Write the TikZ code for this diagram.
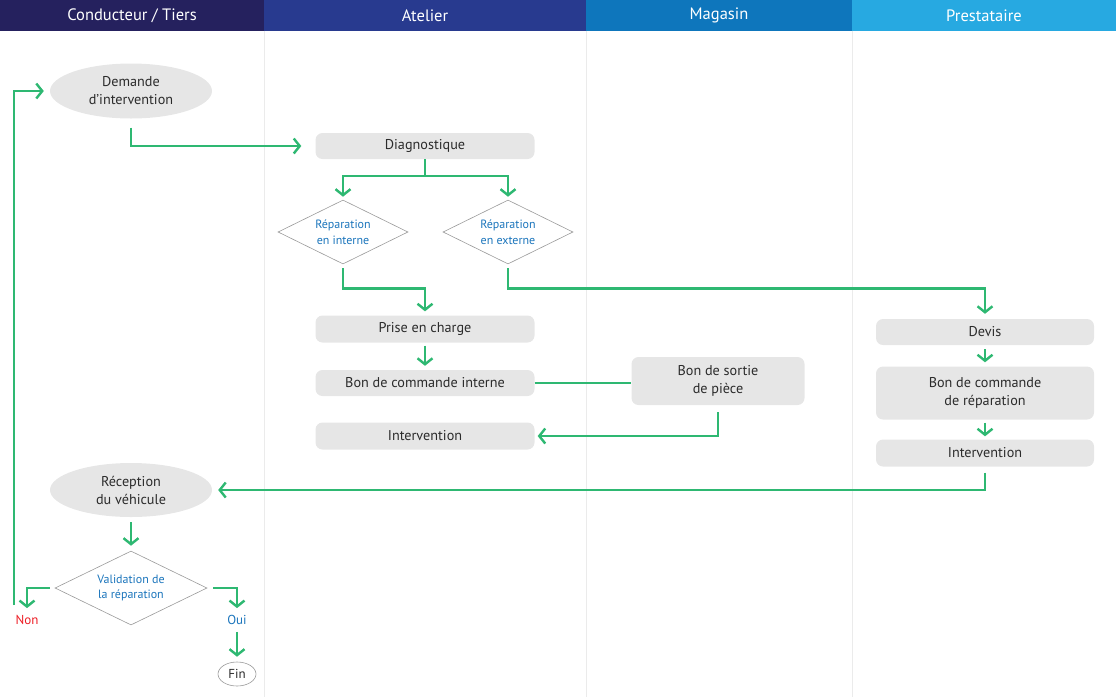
\documentclass[tikz,border=0pt]{standalone}
\usepackage{fontspec}
\setmainfont{PT Sans}
\usepackage{tikz}
\usetikzlibrary{arrows.meta,positioning,shapes.geometric,calc}
\definecolor{laneA}{HTML}{25215E}
\definecolor{laneB}{HTML}{283A8F}
\definecolor{laneC}{HTML}{0E76BC}
\definecolor{laneD}{HTML}{27A9E1}
\definecolor{flow}{HTML}{2EB872}
\definecolor{boxfill}{HTML}{E6E6E6}
\definecolor{boxtext}{HTML}{2B2B2B}
\definecolor{sepgray}{HTML}{EBEBEB}
\definecolor{diagray}{HTML}{9A9A9A}
\definecolor{choiceblue}{HTML}{1B75BC}
\definecolor{nonred}{HTML}{ED1C24}
\tikzset{
  lanehead/.style={fill=#1,text=white,minimum height=31pt,inner sep=0pt,
                   font=\fontsize{16.5}{18}\selectfont},
  stepcard/.style={fill=boxfill,rounded corners=7pt,minimum width=219pt,
                   minimum height=26pt,align=center,inner sep=2pt,
                   text=boxtext,font=\fontsize{14.2}{18}\selectfont},
  ovalcard/.style={ellipse,fill=boxfill,minimum width=162pt,
                   minimum height=55pt,align=center,inner sep=0pt,
                   text=boxtext,font=\fontsize{14.2}{18}\selectfont},
  decisioncard/.style={diamond,draw=diagray,line width=0.6pt,fill=white,
                       aspect=2,inner sep=0pt,align=center,text=choiceblue,
                       font=\fontsize{12}{15.5}\selectfont},
  endcard/.style={ellipse,draw=diagray,line width=0.6pt,fill=white,
                  minimum width=38pt,minimum height=24pt,inner sep=0pt,
                  text=boxtext,font=\fontsize{13}{15}\selectfont},
  answer/.style={inner sep=1pt,font=\fontsize{13}{15}\selectfont},
  greenline/.style={draw=flow,line width=2.4pt},
  greenarr/.style={greenline,-{Straight Barb[length=6pt,width=15pt]}}
}
\begin{document}
\begin{tikzpicture}[x=1pt,y=-1pt]
  \path[use as bounding box] (0,0) rectangle (1116,697);
  % swim lanes
  \foreach \xx in {264,586,852}{
    \draw[sepgray,line width=0.8pt] (\xx,31) -- (\xx,697);
  }
  \node[lanehead=laneA,minimum width=264pt] (hcond) at (132,15.5) {Conducteur / Tiers};
  \node[lanehead=laneB,minimum width=322pt] (hatel) at (425,15.5) {Atelier};
  \node[lanehead=laneC,minimum width=266pt] (hmag) at (719,15.5) {Magasin};
  \node[lanehead=laneD,minimum width=264pt] (hprest) at (984,15.5) {Prestataire};

  % Conducteur / Tiers
  \node[ovalcard] (dem) at (131,91) {Demande\\d’intervention};
  \node[ovalcard,minimum height=54pt] (recep) at (131,490) {Réception\\du véhicule};
  \node[decisioncard,minimum width=152pt,minimum height=74pt] (valid) at (131,588)
    {Validation de\\la réparation};
  \node[answer,text=nonred] (non) at (27,620) {Non};
  \node[answer,text=choiceblue] (oui) at (237,620) {Oui};
  \node[endcard] (fin) at (237,674) {Fin};
  \coordinate (retour) at (14,605);

  % Atelier
  \node[stepcard] (diag) at (425,146) {Diagnostique};
  \node[decisioncard,minimum width=130pt,minimum height=64pt] (rint) at (343,232)
    {Réparation\\en interne};
  \node[decisioncard,minimum width=130pt,minimum height=64pt] (rext) at (508,232)
    {Réparation\\en externe};
  \node[stepcard,minimum height=27pt] (prise) at (425,329) {Prise en charge};
  \node[stepcard] (bci) at (425,383) {Bon de commande interne};
  \node[stepcard,minimum height=27pt] (interv1) at (425,436) {Intervention};

  % Magasin
  \node[stepcard,minimum width=173pt,minimum height=48pt] (sortie) at (718,381)
    {Bon de sortie\\de pièce};

  % Prestataire
  \node[stepcard,minimum width=218pt] (devis) at (985,332) {Devis};
  \node[stepcard,minimum width=218pt,minimum height=53pt] (bcr) at (985,393)
    {Bon de commande\\de réparation};
  \node[stepcard,minimum width=218pt,minimum height=27pt] (interv2) at (985,453)
    {Intervention};

  % connectors
  \draw[greenarr,shorten >=14pt] ([yshift=-9pt]dem.south) |- (diag.west);
  \draw[greenline] (diag.south) -- ++(0,18) coordinate (split);
  \draw[greenarr,shorten >=3pt] ([yshift=1.2pt]split) -| (rint.north);
  \draw[greenarr,shorten >=3pt] ([yshift=1.2pt]split) -| (rext.north);
  \draw[greenarr,shorten >=4pt] ([yshift=-4pt]rint.south) -- ++(0,20) -| (prise.north);
  \draw[greenarr,shorten >=5pt] ([yshift=-4pt]rext.south) -- ++(0,20) -| (devis.north);
  \draw[greenarr,shorten <=3pt,shorten >=4pt] (prise) -- (bci);
  \draw[greenline] (bci.east) -- (bci.east -| sortie.west);
  \draw[greenarr,shorten >=3pt] ([yshift=-7pt]sortie.south) |- (interv1.east);
  \draw[greenarr,shorten <=4pt,shorten >=4pt] (devis) -- (bcr);
  \draw[greenarr,shorten <=3pt,shorten >=3pt] (bcr) -- (interv2);
  \draw[greenarr,shorten >=6pt] ([yshift=-6pt]interv2.south) |- (recep.east);
  \draw[greenarr,shorten <=5pt,shorten >=5pt] (recep) -- (valid);
  \draw[greenarr,shorten >=6pt] ([xshift=-5pt]valid.west) -| (non.north);
  \draw[greenarr,shorten >=6pt] ([xshift=6pt]valid.east) -| (oui.north);
  \draw[greenarr,shorten <=6pt,shorten >=5pt] (oui) -- (fin);
  \draw[greenarr,shorten >=6pt] (retour) |- (dem.west);
\end{tikzpicture}
\end{document}
